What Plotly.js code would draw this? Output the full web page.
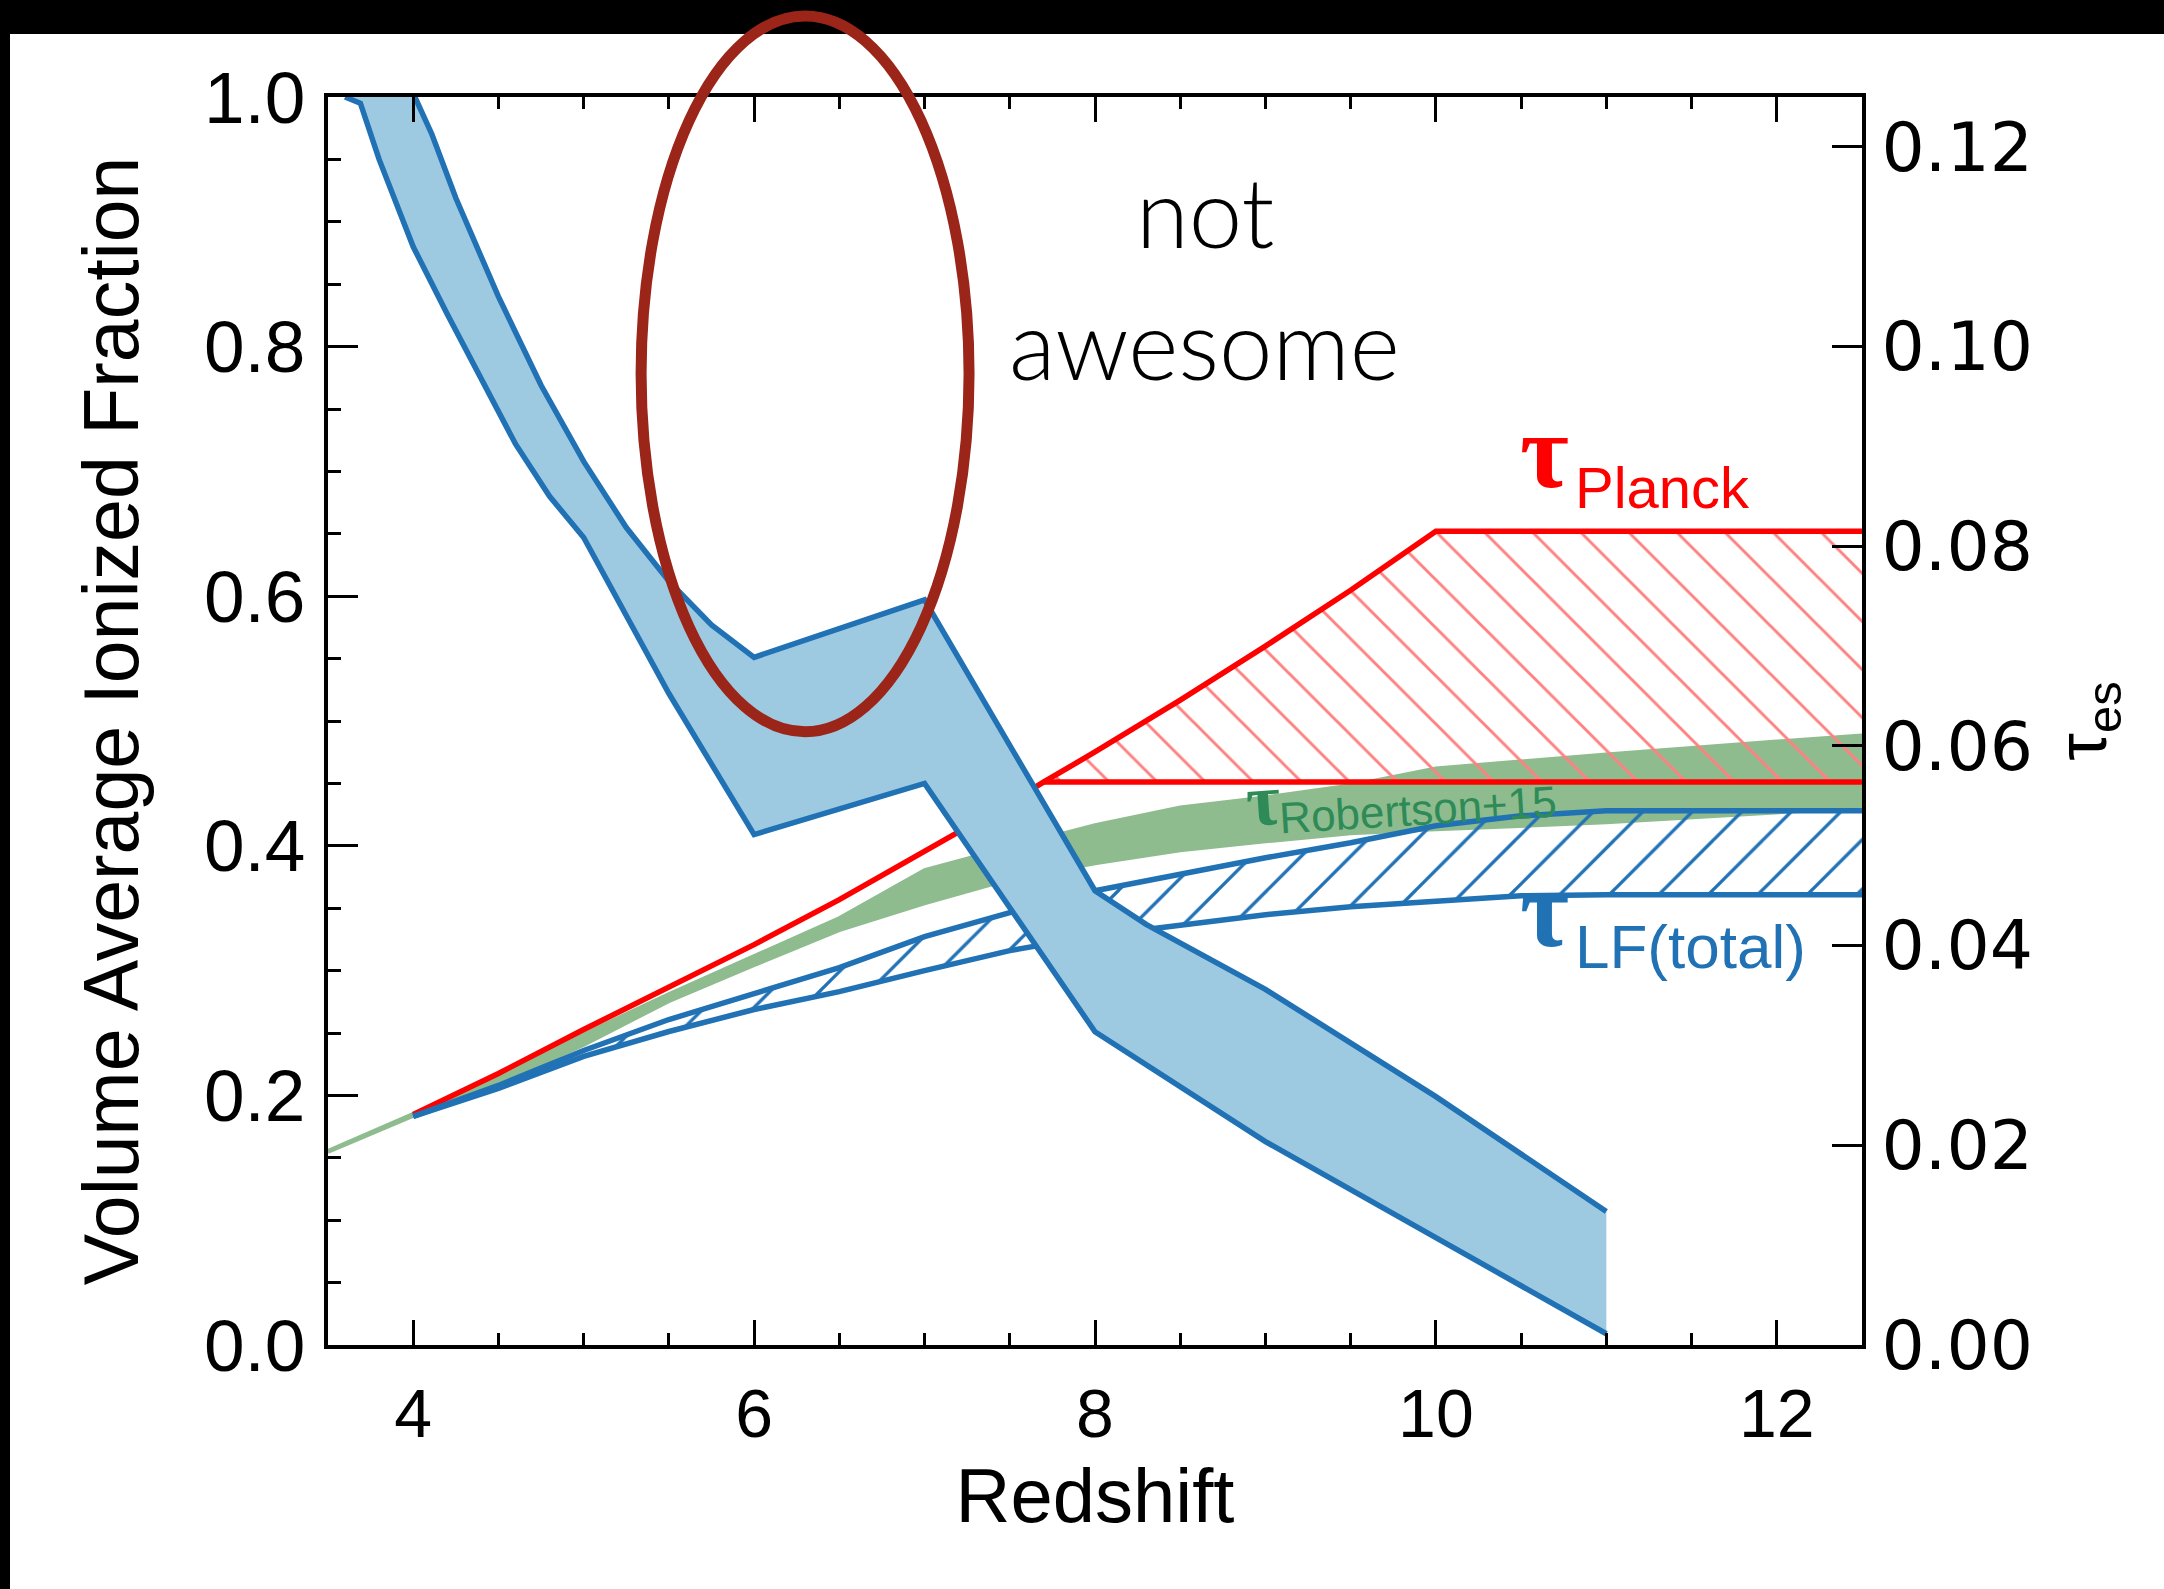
<!DOCTYPE html>
<html>
<head>
<meta charset="utf-8">
<script src="https://cdn.plot.ly/plotly-3.0.1.min.js"></script>
<style>
  html, body { margin: 0; padding: 0; background: #fff; }
  #wrap { position: relative; width: 2164px; height: 1589px; overflow: hidden; background: #fff; }
  .edge { position: absolute; background: #000; }
  #edge-top { left: 0; top: 0; width: 2164px; height: 34px; }
  #edge-left { left: 0; top: 0; width: 10px; height: 1589px; }
  #chart { position: absolute; left: 0; top: 0; width: 2164px; height: 1589px; }
</style>
</head>
<body>
<div id="wrap">
  <div class="edge" id="edge-top"></div>
  <div class="edge" id="edge-left"></div>
  <div id="chart"></div>
</div>
<script>
// Volume-averaged ionized fraction band: upper and lower edges
const xhiiUpperZ = [4.01, 4.11, 4.25, 4.5, 4.75, 5.0, 5.25, 5.5, 5.75, 6.0, 7.0, 8.0, 8.3, 9.0, 10.0, 11.0];
const xhiiUpper  = [1.0, 0.970, 0.919, 0.840, 0.769, 0.708, 0.655, 0.612, 0.577, 0.551, 0.597, 0.364, 0.337, 0.285, 0.199, 0.107];
const xhiiLowerZ = [3.6, 3.69, 3.8, 4.0, 4.2, 4.4, 4.6, 4.8, 5.0, 5.5, 6.0, 7.0, 8.0, 9.0, 10.0, 11.0];
const xhiiLower  = [1.0, 0.995, 0.95, 0.88, 0.826, 0.773, 0.722, 0.68, 0.647, 0.522, 0.409, 0.450, 0.251, 0.163, 0.086, 0.009];

// Cumulative electron-scattering optical depth (instant reionization) and the Planck bounds
const tauCumZ = [4.0, 4.5, 5.0, 5.5, 6.0, 6.5, 7.0, 7.5, 7.7, 8.0, 8.5, 9.0, 9.5, 10.0, 12.5];
const tauCum  = [0.0231, 0.0272, 0.0316, 0.0358, 0.0401, 0.0446, 0.0494, 0.0543, 0.0564, 0.0594, 0.0646, 0.0700, 0.0756, 0.0815, 0.0815];
const planckLow  = 0.0564;
const planckHigh = 0.0815;

// Robertson+15 optical depth band
const robZ    = [3.5, 4.0, 4.5, 5.0, 5.5, 6.0, 6.5, 7.0, 7.5, 8.0, 8.5, 9.0, 9.5, 10.0, 11.0, 12.0, 12.5];
const robHigh = [0.0195, 0.0232, 0.0270, 0.0312, 0.0352, 0.0390, 0.0428, 0.0476, 0.0499, 0.0521, 0.0539, 0.0549, 0.0561, 0.0578, 0.0592, 0.0605, 0.0611];
const robLow  = [0.0193, 0.0229, 0.0262, 0.0300, 0.0344, 0.0380, 0.0415, 0.0442, 0.0466, 0.0482, 0.0495, 0.0504, 0.0512, 0.0516, 0.0523, 0.0533, 0.0538];

// Optical depth from the total luminosity function
const lfZ    = [4.0, 4.5, 5.0, 5.5, 6.0, 6.5, 7.0, 7.5, 8.0, 8.5, 9.0, 9.5, 10.0, 10.5, 11.0, 12.5];
const lfHigh = [0.0229, 0.0260, 0.0295, 0.0326, 0.0352, 0.0378, 0.0409, 0.0433, 0.0455, 0.0472, 0.0488, 0.0503, 0.0520, 0.0530, 0.0535, 0.0535];
const lfLow  = [0.0229, 0.0257, 0.0289, 0.0314, 0.0336, 0.0354, 0.0375, 0.0395, 0.0410, 0.0421, 0.0431, 0.0439, 0.0445, 0.0450, 0.0451, 0.0451];

// Axis ranges and ticks
const zRange    = [3.5, 12.5];
const fracRange = [0, 1];
const tauRange  = [0, 0.125];
const zTicks    = [4, 6, 8, 10, 12];

// Text
const xTitle = 'Redshift';
const fracTitle = 'Volume Average Ionized Fraction';
const tauTitle = 'τ<sub>es</sub>';
const labelPlanck = 'Planck';
const labelLF = 'LF(total)';
const labelRob = 'Robertson+15';
const noteLines = ['not', 'awesome'];

// Colours
const BLUE = '#2171B5';
const BLUE_FILL = '#9ECAE1';
const RED = '#FF0000';
const RED_HATCH = '#FF8080';
const GREEN_FILL = '#8FBC8F';
const GREEN_TEXT = '#2E8B57';
const MAROON = '#9B2519';

const SANS = 'Liberation Sans, Arial, Helvetica, sans-serif';
const SERIF = 'Liberation Serif, DejaVu Serif, serif';

function band(xs, hi, lo) {
  return {
    x: xs.concat(xs.slice().reverse()),
    y: hi.concat(lo.slice().reverse())
  };
}

// Planck region: between planckLow and min(tauCum, planckHigh)
const iStart = tauCum.findIndex(v => v >= planckLow);
const planckTopZ = tauCumZ.slice(iStart);
const planckTop = tauCum.slice(iStart).map(v => Math.min(v, planckHigh));
const planckPoly = {
  x: planckTopZ.concat([planckTopZ[planckTopZ.length - 1], planckTopZ[0]]),
  y: planckTop.concat([planckLow, planckLow])
};

const robPoly = band(robZ, robHigh, robLow);
const lfPoly = band(lfZ, lfHigh, lfLow);
const xhiiPoly = {
  x: xhiiUpperZ.concat(xhiiLowerZ.slice().reverse()),
  y: xhiiUpper.concat(xhiiLower.slice().reverse())
};

const traces = [
  // optical depth curves (right axis)
  { x: robPoly.x, y: robPoly.y, yaxis: 'y', mode: 'lines', fill: 'toself',
    fillcolor: GREEN_FILL, line: { color: GREEN_FILL, width: 3 }, hoverinfo: 'skip' },
  { x: planckPoly.x, y: planckPoly.y, yaxis: 'y', mode: 'lines', fill: 'toself',
    fillcolor: 'rgba(0,0,0,0)', line: { width: 0 },
    fillpattern: { shape: '\\', size: 34, solidity: 0.085, fgcolor: RED_HATCH, bgcolor: 'rgba(0,0,0,0)', fillmode: 'replace' },
    hoverinfo: 'skip' },
  { x: tauCumZ, y: tauCum, yaxis: 'y', mode: 'lines', line: { color: RED, width: 5.5 }, hoverinfo: 'skip' },
  { x: [planckTopZ[0], planckTopZ[planckTopZ.length - 1]], y: [planckLow, planckLow], yaxis: 'y',
    mode: 'lines', line: { color: RED, width: 5.5 }, hoverinfo: 'skip' },
  { x: lfPoly.x, y: lfPoly.y, yaxis: 'y', mode: 'lines', fill: 'toself',
    fillcolor: 'rgba(0,0,0,0)', line: { width: 0 },
    fillpattern: { shape: '/', size: 35, solidity: 0.095, fgcolor: BLUE, bgcolor: 'rgba(0,0,0,0)', fillmode: 'replace' },
    hoverinfo: 'skip' },
  { x: lfZ, y: lfHigh, yaxis: 'y', mode: 'lines', line: { color: BLUE, width: 5.5 }, hoverinfo: 'skip' },
  { x: lfZ, y: lfLow, yaxis: 'y', mode: 'lines', line: { color: BLUE, width: 5.5 }, hoverinfo: 'skip' },
  // ionized fraction band (left axis)
  { x: xhiiPoly.x, y: xhiiPoly.y, yaxis: 'y2', mode: 'lines', fill: 'toself',
    fillcolor: BLUE_FILL, line: { width: 0 }, hoverinfo: 'skip' },
  { x: xhiiUpperZ, y: xhiiUpper, yaxis: 'y2', mode: 'lines', line: { color: BLUE, width: 5.5 }, hoverinfo: 'skip' },
  { x: xhiiLowerZ, y: xhiiLower, yaxis: 'y2', mode: 'lines', line: { color: BLUE, width: 5.5 }, hoverinfo: 'skip' }
];

function label(text, x, y, font, extra) {
  return Object.assign({ text: text, x: x, y: y, xref: 'x', yref: 'y2', showarrow: false,
    xanchor: 'center', yanchor: 'middle', font: font }, extra || {});
}

const annotations = [
  label('τ', 10.64, 0.716, { family: SERIF, size: 106, color: RED, weight: 'bold' }),
  label(labelPlanck, 10.804, 0.687, { family: SANS, size: 58, color: RED }, { xanchor: 'left' }),
  label('τ', 10.64, 0.348, { family: SERIF, size: 106, color: BLUE, weight: 'bold' }),
  label(labelLF, 10.805, 0.3195, { family: SANS, size: 62, color: BLUE }, { xanchor: 'left' }),
  label('τ', 8.985, 0.437, { family: SERIF, size: 74, color: GREEN_TEXT, weight: 'bold' }, { textangle: -4 }),
  label(labelRob, 9.894, 0.429, { family: SANS, size: 44, color: GREEN_TEXT }, { textangle: -3.5 }),
  label(noteLines[0], 8.645, 0.909, { family: 'Lato, Inter, sans-serif', size: 96, color: '#000', weight: 300 }),
  label(noteLines[1], 8.645, 0.803, { family: 'Lato, Inter, sans-serif', size: 96, color: '#000', weight: 300 })
];

const axisCommon = {
  showgrid: false, zeroline: false, showline: true, linecolor: '#000', linewidth: 4,
  ticks: 'inside', tickcolor: '#000', tickwidth: 3
};

const layout = {
  width: 2164, height: 1589,
  margin: { l: 328, r: 302, t: 97, b: 244, pad: 0 },
  paper_bgcolor: 'rgba(0,0,0,0)',
  plot_bgcolor: '#fff',
  showlegend: false,
  hovermode: false,
  xaxis: Object.assign({}, axisCommon, {
    range: zRange, tickmode: 'array', tickvals: zTicks, ticklen: 25, mirror: 'ticks',
    minor: { dtick: 0.5, tick0: 3.5, ticks: 'inside', ticklen: 12, tickwidth: 3, tickcolor: '#000' },
    tickfont: { family: SANS, size: 68, color: '#000' }, ticklabelstandoff: 6,
    title: { text: xTitle, font: { family: SANS, size: 76, color: '#000' }, standoff: 20 }
  }),
  yaxis: Object.assign({}, axisCommon, {
    range: tauRange, side: 'right', dtick: 0.02, tick0: 0, tickformat: '.2f', ticklen: 30,
    tickfont: { family: 'DejaVu Sans, sans-serif', size: 68, color: '#000' }, ticklabelstandoff: 2,
    title: { text: tauTitle, font: { family: SANS, size: 70, color: '#000' }, standoff: 26 }
  }),
  yaxis2: Object.assign({}, axisCommon, {
    range: fracRange, side: 'left', overlaying: 'y', dtick: 0.2, tick0: 0, tickformat: '.1f', ticklen: 30,
    minor: { dtick: 0.05, ticks: 'inside', ticklen: 13, tickwidth: 3, tickcolor: '#000' },
    tickfont: { family: SANS, size: 73, color: '#000' }, ticklabelstandoff: 4,
    title: { text: fracTitle, font: { family: SANS, size: 77, color: '#000' }, standoff: 41 }
  }),
  annotations: annotations,
  shapes: [
    { type: 'circle', xref: 'paper', yref: 'paper', x0: 0.2041, x1: 0.4179, y0: 0.4914, y1: 1.0649,
      line: { color: MAROON, width: 11 }, fillcolor: 'rgba(0,0,0,0)', layer: 'above' }
  ]
};

Plotly.newPlot('chart', traces, layout, { staticPlot: true, displayModeBar: false });
</script>
</body>
</html>
